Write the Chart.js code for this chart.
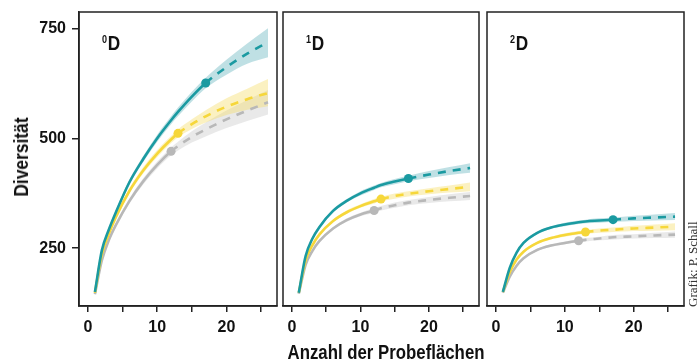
<!DOCTYPE html>
<html>
<head>
<meta charset="utf-8">
<script src="https://cdn.jsdelivr.net/npm/chart.js@4.4.0/dist/chart.umd.min.js"></script>
<style>
  body { margin: 0; background: #fff; width: 697px; height: 363px; overflow: hidden; position: relative;
         font-family: 'Liberation Sans', Arial, sans-serif; color: #111; }
  canvas { position: absolute; top: 0; }
  .t { position: absolute; font-weight: bold; white-space: nowrap; }
  #ytitle { left: 21px; top: 157px; font-size: 20px; line-height: 20px;
            transform: translate(-50%, -50%) rotate(-90deg) scaleX(0.87); }
  #xtitle { left: 386px; top: 351px; font-size: 21px; line-height: 21px;
            transform: translate(-50%, -50%) scaleX(0.8); }
  .lbl { top: 32px; font-size: 21px; line-height: 21px; transform-origin: 0 0; transform: scaleX(0.82); }
  .lbl span { font-size: 11px; position: relative; top: -7px; margin-right: 1px; }
  #credit { position: absolute; left: 686px; top: 307px; transform-origin: 0 0; transform: rotate(-90deg);
            font-family: 'Liberation Serif', serif; font-size: 13px; color: #333; white-space: nowrap; line-height: 13px; }
</style>
</head>
<body>
<canvas id="c0" width="280" height="363" style="left:0px"></canvas>
<canvas id="c1" width="204" height="363" style="left:280px"></canvas>
<canvas id="c2" width="213" height="363" style="left:484px"></canvas>
<div class="t" id="ytitle">Diversität</div>
<div class="t" id="xtitle">Anzahl der Probeflächen</div>
<div class="t lbl" style="left:102px"><span>0</span>D</div>
<div class="t lbl" style="left:306px"><span>1</span>D</div>
<div class="t lbl" style="left:510px"><span>2</span>D</div>
<div id="credit">Grafik: P. Schall</div>
<script>
// number of sample plots
var xs = [1, 2, 3, 4, 6, 8, 10, 12, 13, 15, 17, 20, 23, 26];
var xTicks = [0, 5, 10, 15, 20, 25];
var yTicks = [250, 500, 750];
var obsTeal = 17, obsYellow = 13, obsGray = 12;

// 0D
var d0Teal   = [150, 245, 292, 331, 401, 454, 501, 542, 561, 596, 627, 663, 694, 720];
var d0TealLo = [148, 242, 288, 326, 395, 447, 493, 533, 551, 585, 615, 646, 671, 686];
var d0TealHi = [152, 248, 296, 336, 407, 461, 509, 551, 571, 607, 639, 680, 717, 752];
var d0Yel    = [148, 236, 282, 320, 381, 428, 466, 498, 512, 533, 551, 573, 590, 604];
var d0YelLo  = [146, 233, 278, 315, 375, 421, 458, 490, 503, 522, 537, 554, 566, 574];
var d0YelHi  = [150, 239, 286, 325, 387, 435, 474, 506, 521, 544, 565, 592, 614, 636];
var d0Gray   = [145, 222, 268, 302, 358, 403, 440, 471, 483, 504, 521, 544, 564, 583];
var d0GrayLo = [143, 219, 264, 297, 352, 396, 432, 462, 473, 491, 505, 524, 540, 555];
var d0GrayHi = [147, 225, 272, 307, 364, 410, 448, 480, 493, 517, 537, 564, 588, 611];

// 1D
var d1Teal   = [148, 232, 272, 298, 335, 358, 375, 388, 394, 402, 409, 418, 426, 433];
var d1TealLo = [147, 230, 269, 295, 331, 354, 370, 383, 389, 396, 403, 410, 417, 422];
var d1TealHi = [149, 234, 275, 301, 339, 362, 380, 393, 399, 408, 415, 426, 435, 444];
var d1Yel    = [148, 222, 257, 281, 312, 332, 346, 357, 362, 369, 374, 380, 385, 390];
var d1YelLo  = [147, 220, 255, 278, 309, 328, 342, 352, 357, 363, 368, 373, 377, 380];
var d1YelHi  = [149, 224, 259, 284, 315, 336, 350, 362, 367, 375, 380, 387, 393, 400];
var d1Gray   = [146, 212, 244, 266, 295, 314, 327, 336, 341, 348, 354, 360, 365, 369];
var d1GrayLo = [145, 210, 242, 263, 292, 310, 323, 331, 336, 342, 348, 353, 357, 360];
var d1GrayHi = [147, 214, 246, 269, 298, 318, 331, 341, 346, 354, 360, 367, 373, 378];

// 2D
var d2Teal   = [150, 205, 240, 262, 285, 297, 304, 309, 311, 313, 315, 318, 320, 322];
var d2TealLo = [149, 203, 238, 259, 282, 294, 300, 305, 307, 308, 310, 312, 313, 314];
var d2TealHi = [151, 207, 242, 265, 288, 300, 308, 313, 315, 318, 320, 324, 327, 330];
var d2Yel    = [150, 195, 224, 242, 262, 273, 280, 285, 287, 290, 292, 295, 297, 299];
var d2YelLo  = [149, 193, 222, 239, 259, 270, 276, 281, 283, 285, 287, 289, 290, 291];
var d2YelHi  = [151, 197, 226, 245, 265, 276, 284, 289, 291, 295, 297, 301, 304, 307];
var d2Gray   = [148, 185, 210, 227, 246, 256, 262, 267, 269, 272, 275, 277, 279, 281];
var d2GrayLo = [147, 183, 208, 225, 243, 253, 259, 263, 265, 268, 270, 272, 273, 274];
var d2GrayHi = [149, 187, 212, 229, 249, 259, 265, 271, 273, 276, 280, 282, 285, 288];

var TEAL = "#1a9aa1", TEAL_BAND = "rgba(95,178,188,0.4)";
var YEL = "#f6d73a", YEL_BAND = "rgba(246,220,100,0.4)";
var GRAY = "#b8b8b8", GRAY_BAND = "rgba(175,175,175,0.28)";
var FONT = "'Liberation Sans', Arial, sans-serif";

function pts(arr) {
  return xs.map(function (x, i) { return { x: x, y: arr[i] }; });
}

function series(vals, lo, hi, obs, line, band, rank) {
  return [
    { data: pts(lo), borderWidth: 0, pointRadius: 0, fill: false, order: 10 + rank },
    { data: pts(hi), borderWidth: 0, pointRadius: 0, fill: "-1", backgroundColor: band, order: 10 + rank },
    {
      data: pts(vals), borderColor: line, borderWidth: 2.6, fill: false, order: rank,
      pointRadius: xs.map(function (x) { return x === obs ? 4.5 : 0; }),
      pointBackgroundColor: line, pointBorderWidth: 0,
      segment: { borderDash: function (c) { return c.p0.parsed.x >= obs ? [8, 7] : undefined; } }
    }
  ];
}

var frame = {
  id: "frame",
  afterDraw: function (chart) {
    var a = chart.chartArea, ctx = chart.ctx;
    ctx.save();
    ctx.strokeStyle = "#222";
    ctx.lineWidth = 1.5;
    ctx.strokeRect(a.left, a.top, a.right - a.left, a.bottom - a.top);
    ctx.restore();
  }
};

function makePanel(id, sets, opt) {
  var datasets = []
    .concat(series(sets[0], sets[1], sets[2], obsTeal, TEAL, TEAL_BAND, 0))
    .concat(series(sets[3], sets[4], sets[5], obsYellow, YEL, YEL_BAND, 1))
    .concat(series(sets[6], sets[7], sets[8], obsGray, GRAY, GRAY_BAND, 2));

  new Chart(document.getElementById(id), {
    type: "line",
    data: { datasets: datasets },
    plugins: [frame],
    options: {
      responsive: false,
      animation: false,
      devicePixelRatio: 1,
      layout: { padding: opt.padding },
      elements: { line: { cubicInterpolationMode: "monotone" } },
      plugins: { legend: { display: false }, tooltip: { enabled: false } },
      scales: {
        x: {
          type: "linear", min: -1.3, max: 27.3,
          afterBuildTicks: function (s) { s.ticks = xTicks.map(function (v) { return { value: v }; }); },
          afterFit: function (s) { s.height = 57; s.paddingLeft = 0; s.paddingRight = 0; },
          ticks: {
            padding: 6, color: "#111", maxRotation: 0,
            font: { family: FONT, size: 16, weight: "bold" },
            callback: function (v) { return v % 10 === 0 ? v : ""; }
          },
          grid: { drawOnChartArea: false, drawTicks: true, tickLength: 6, color: "#222", lineWidth: 1.5 },
          border: { display: true, color: "#222", width: 1.5 }
        },
        y: {
          type: "linear", min: 118, max: 789, display: opt.showY,
          afterBuildTicks: function (s) { s.ticks = yTicks.map(function (v) { return { value: v }; }); },
          afterFit: function (s) {
            if (opt.showY) s.width = 79;
            s.paddingTop = 0; s.paddingBottom = 0;
          },
          ticks: { padding: 6, color: "#111", font: { family: FONT, size: 16, weight: "bold" } },
          grid: { drawOnChartArea: false, drawTicks: true, tickLength: 7, color: "#222", lineWidth: 1.5 },
          border: { display: true, color: "#222", width: 1.5 }
        }
      }
    }
  });
}

makePanel("c0", [d0Teal, d0TealLo, d0TealHi, d0Yel, d0YelLo, d0YelHi, d0Gray, d0GrayLo, d0GrayHi],
  { showY: true, padding: { top: 12, right: 3, left: 0, bottom: 0 } });
makePanel("c1", [d1Teal, d1TealLo, d1TealHi, d1Yel, d1YelLo, d1YelHi, d1Gray, d1GrayLo, d1GrayHi],
  { showY: false, padding: { top: 12, right: 5, left: 3, bottom: 0 } });
makePanel("c2", [d2Teal, d2TealLo, d2TealHi, d2Yel, d2YelLo, d2YelHi, d2Gray, d2GrayLo, d2GrayHi],
  { showY: false, padding: { top: 12, right: 13, left: 3, bottom: 0 } });
</script>
</body>
</html>
